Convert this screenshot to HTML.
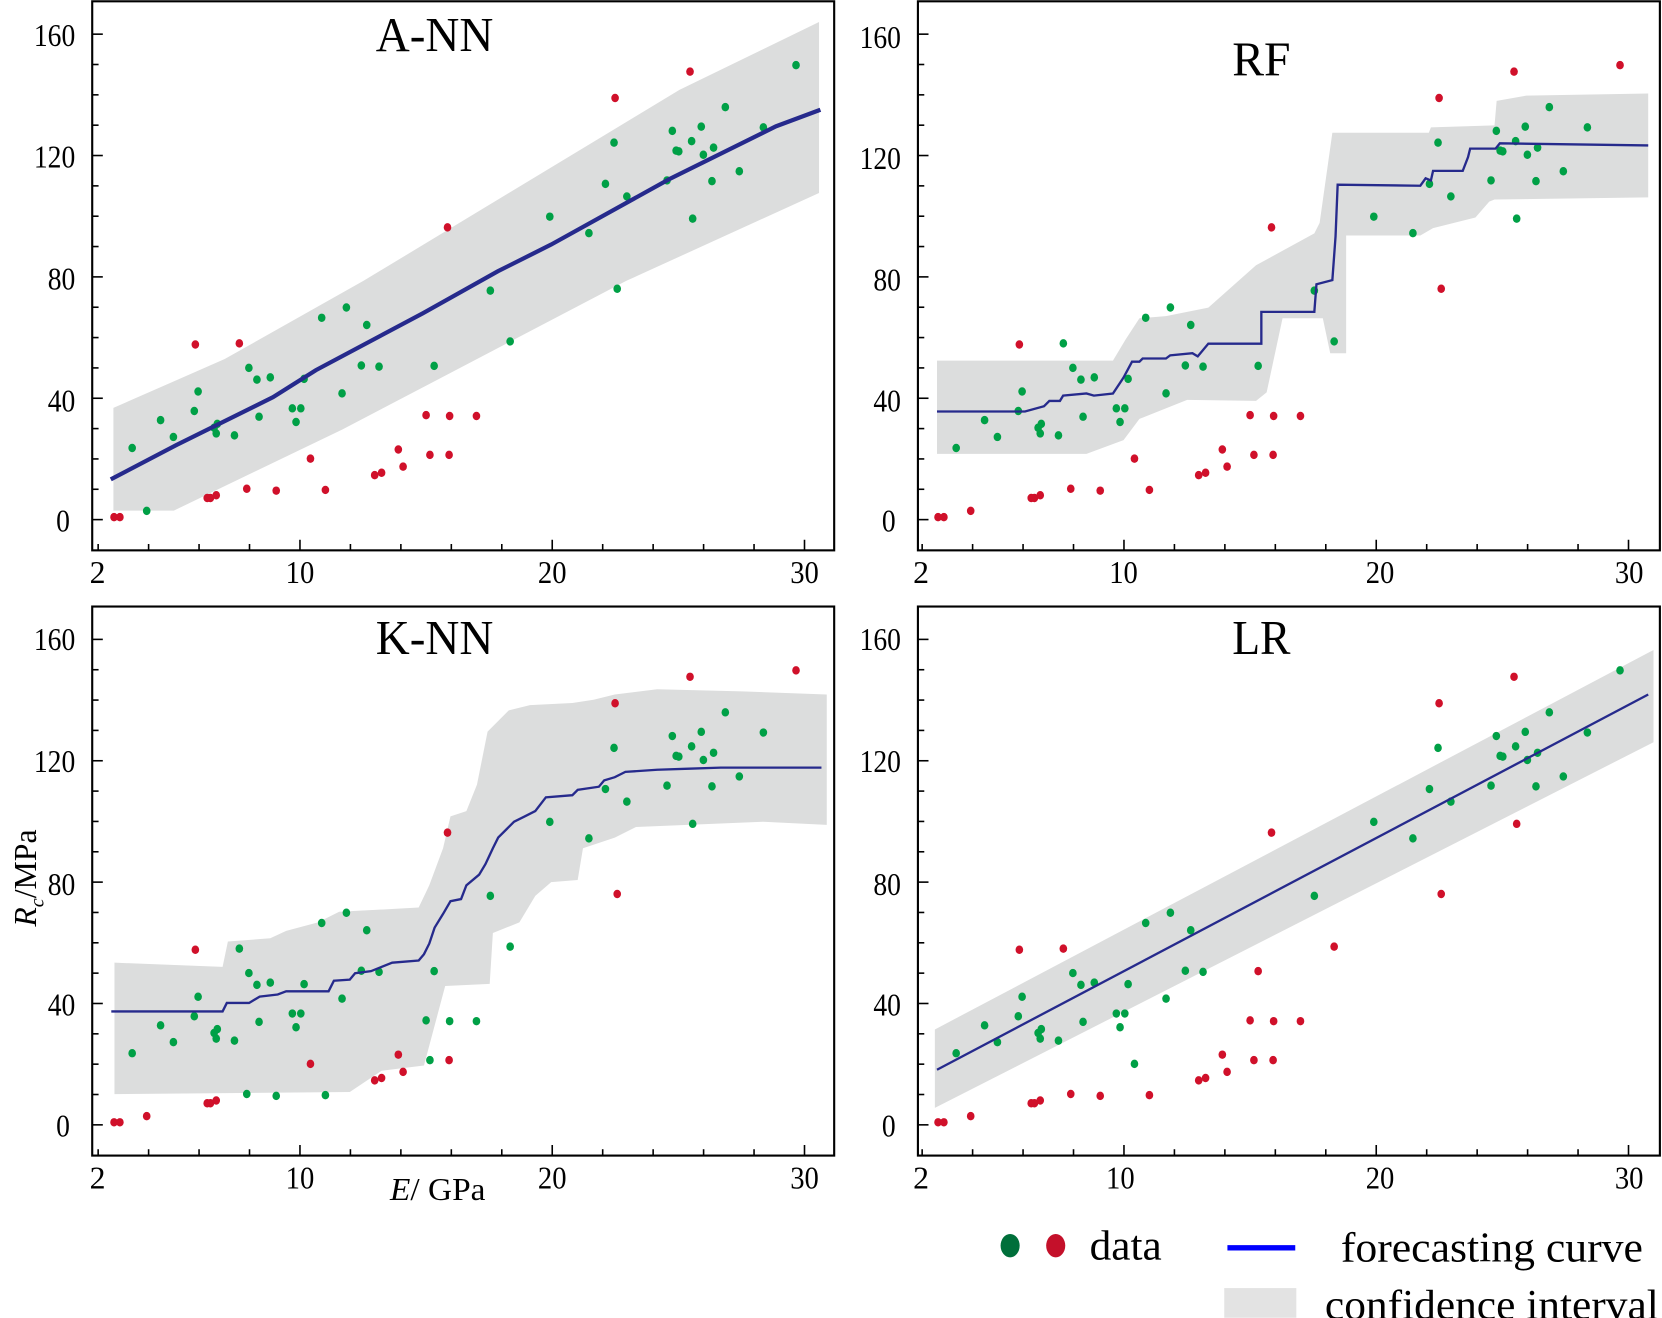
<!DOCTYPE html>
<html><head><meta charset="utf-8"><style>
html,body{margin:0;padding:0;background:#fff;width:1662px;height:1318px;overflow:hidden}
svg{display:block}
text{font-family:"Liberation Serif",serif;fill:#000}
</style></head><body>
<svg id="s" width="1662" height="1318" viewBox="0 0 1568 1243" xmlns="http://www.w3.org/2000/svg">
<polygon fill="#dcdddd" points="107,384.6 212,338.5 343,264.7 641,84.6 772.7,20.5 772.7,181.8 591,264.7 323,405 164,481.5 107,481.5"/>
<polygon fill="#dcdddd" points="884,340 1050,340 1062,320 1075,300 1100,298 1140,290 1185,250 1240,220 1245,210 1257,125 1348,125 1350,120 1410,118 1412,95 1440,90 1555,88 1555,186 1410,188 1405,190 1392,205 1352,215 1340,222 1270,222 1270,333 1255,333 1248,300 1210,300 1195,370 1185,378 1120,377 1075,395 1060,415 1025,428 884,428"/>
<polygon fill="#dcdddd" points="108,908 210,912 215,888 255,885 270,878 300,870 320,860 395,856 405,835 418,800 425,770 440,765 450,740 460,690 470,680 480,670 500,665 540,663 560,660 580,655 620,650 700,652 780,655 780,778 720,775 600,780 580,790 550,800 545,830 520,832 505,845 490,870 465,880 462,928 420,930 400,1005 360,1010 330,1030 108,1032"/>
<polygon fill="#dcdddd" points="882,971 1560,613 1560,700 882,1045"/>
<g id="dots"></g>
<polyline fill="none" stroke="#262a8c" stroke-width="4" points="104.5,452 166.7,419.5 257.6,374.5 298,349 399,295.3 469.7,255.7 520,230.5 631,169 732,119 774,103.3"/>
<polyline fill="none" stroke="#262a8c" stroke-width="2.2" points="884,388 963,388 967,388 985,383 990,378 1000,378 1003,373 1025,371 1032,373 1050,371 1060,356 1068,341 1075,341 1078,338 1100,338 1104,335 1125,333 1130,336 1140,324 1190,324 1190,294 1240,294 1242,268 1257,264 1260,223 1262,174 1340,175 1345,168 1350,170 1352,161 1380,161 1385,148 1387,140 1411,140 1415,135 1555,137"/>
<polyline fill="none" stroke="#262a8c" stroke-width="2.2" points="105,954 210,954 214,946 235,946 245,940 262,938 270,935 310,935 315,925 330,924 335,918 350,916 370,908 395,906 400,900 405,890 410,875 418,862 425,850 435,848 440,835 452,825 458,815 465,800 470,790 478,782 485,775 495,770 505,765 515,752 540,750 545,745 565,742 570,736 580,733 590,728 620,726 650,725 680,724 775,724"/>
<line x1="884" y1="1009" x2="1555" y2="655" stroke="#262a8c" stroke-width="2.2"/>
<g fill="none" stroke="#000" stroke-width="2">
<rect x="87" y="1" width="700" height="518"/>
<rect x="866" y="1" width="700" height="518"/>
<rect x="87" y="572" width="700" height="518"/>
<rect x="866" y="572" width="700" height="518"/>
</g>
<g id="ticks" stroke="#000" stroke-width="1.5"></g>
<g font-size="46" text-anchor="middle" lengthAdjust="spacingAndGlyphs">
<text x="410" y="48" textLength="111" lengthAdjust="spacingAndGlyphs">A-NN</text>
<text x="1190" y="71" textLength="55" lengthAdjust="spacingAndGlyphs">RF</text>
<text x="410" y="617" textLength="111" lengthAdjust="spacingAndGlyphs">K-NN</text>
<text x="1190" y="617" textLength="55" lengthAdjust="spacingAndGlyphs">LR</text>
</g>
<g font-size="30" text-anchor="end">
<text x="71" y="43" textLength="39" lengthAdjust="spacingAndGlyphs">160</text><text x="71" y="158" textLength="39" lengthAdjust="spacingAndGlyphs">120</text><text x="71" y="273" textLength="26" lengthAdjust="spacingAndGlyphs">80</text><text x="71" y="388" textLength="26" lengthAdjust="spacingAndGlyphs">40</text><text x="66" y="501" textLength="13" lengthAdjust="spacingAndGlyphs">0</text>
<text x="850" y="45" textLength="39" lengthAdjust="spacingAndGlyphs">160</text><text x="850" y="159" textLength="39" lengthAdjust="spacingAndGlyphs">120</text><text x="850" y="274" textLength="26" lengthAdjust="spacingAndGlyphs">80</text><text x="850" y="388" textLength="26" lengthAdjust="spacingAndGlyphs">40</text><text x="845" y="501" textLength="13" lengthAdjust="spacingAndGlyphs">0</text>
<text x="71" y="613" textLength="39" lengthAdjust="spacingAndGlyphs">160</text><text x="71" y="728" textLength="39" lengthAdjust="spacingAndGlyphs">120</text><text x="71" y="844" textLength="26" lengthAdjust="spacingAndGlyphs">80</text><text x="71" y="958" textLength="26" lengthAdjust="spacingAndGlyphs">40</text><text x="66" y="1072" textLength="13" lengthAdjust="spacingAndGlyphs">0</text>
<text x="850" y="613" textLength="39" lengthAdjust="spacingAndGlyphs">160</text><text x="850" y="728" textLength="39" lengthAdjust="spacingAndGlyphs">120</text><text x="850" y="844" textLength="26" lengthAdjust="spacingAndGlyphs">80</text><text x="850" y="958" textLength="26" lengthAdjust="spacingAndGlyphs">40</text><text x="845" y="1072" textLength="13" lengthAdjust="spacingAndGlyphs">0</text>
</g>
<g font-size="30" text-anchor="middle">
<text x="92" y="550">2</text><text x="283" y="550" textLength="27" lengthAdjust="spacingAndGlyphs">10</text><text x="521" y="550" textLength="27" lengthAdjust="spacingAndGlyphs">20</text><text x="759" y="550" textLength="27" lengthAdjust="spacingAndGlyphs">30</text>
<text x="869" y="550">2</text><text x="1060" y="550" textLength="27" lengthAdjust="spacingAndGlyphs">10</text><text x="1302" y="550" textLength="27" lengthAdjust="spacingAndGlyphs">20</text><text x="1537" y="550" textLength="27" lengthAdjust="spacingAndGlyphs">30</text>
<text x="92" y="1121">2</text><text x="283" y="1121" textLength="27" lengthAdjust="spacingAndGlyphs">10</text><text x="521" y="1121" textLength="27" lengthAdjust="spacingAndGlyphs">20</text><text x="759" y="1121" textLength="27" lengthAdjust="spacingAndGlyphs">30</text>
<text x="869" y="1121">2</text><text x="1057" y="1121" textLength="27" lengthAdjust="spacingAndGlyphs">10</text><text x="1302" y="1121" textLength="27" lengthAdjust="spacingAndGlyphs">20</text><text x="1537" y="1121" textLength="27" lengthAdjust="spacingAndGlyphs">30</text>
</g>
<text x="368" y="1132" font-size="30" textLength="90" lengthAdjust="spacingAndGlyphs"><tspan font-style="italic">E</tspan>/ GPa</text>
<text transform="translate(34,874) rotate(-90)" font-size="30"><tspan font-style="italic">R</tspan><tspan font-style="italic" font-size="19" dy="7">c</tspan><tspan dy="-7">/MPa</tspan></text>
<ellipse cx="953" cy="1175" rx="9" ry="11" fill="#006f3a"/>
<ellipse cx="996" cy="1175" rx="9" ry="11" fill="#c4102a"/>
<text x="1028" y="1188" font-size="40" textLength="68" lengthAdjust="spacingAndGlyphs">data</text>
<line x1="1158" y1="1177" x2="1222" y2="1177" stroke="#0000ff" stroke-width="5"/>
<text x="1265" y="1190" font-size="40" textLength="285" lengthAdjust="spacingAndGlyphs">forecasting curve</text>
<rect x="1155" y="1215" width="68" height="28" fill="#e3e3e3"/>
<text x="1250" y="1244" font-size="40" textLength="315" lengthAdjust="spacingAndGlyphs">confidence interval</text>
</svg>
<script>
var P=[
[124.7,422.4,"gggg"],[138.4,481.8,"grrr"],[151.5,396.1,"gggg"],[163.6,412,"gggg"],[183.3,387.5,"gggg"],[186.9,369.1,"gggg"],[202,403.3,"gggg"],[205,399.7,"gggg"],[204,408.7,"gggg"],[221.2,410.5,"gggg"],[234.8,346.8,"gggg"],[242.4,357.9,"gggg"],[244.4,392.9,"gggg"],[255,355.8,"gggg"],[275.8,385,"gggg"],[283.8,385,"gggg"],[279.3,397.9,"gggg"],[286.9,357.2,"gggg"],[303.5,299.6,"gggg"],[322.7,370.9,"gggg"],[326.8,289.9,"gggg"],[340.9,344.6,"gggg"],[346,306.4,"gggg"],[357.6,345.7,"gggg"],[409.6,345,"gggr"],[462.6,274,"gggg"],[481.3,321.9,"gggr"],[518.7,204.2,"gggg"],[555.6,219.7,"gggg"],[571.2,173.2,"gggg"],[579.3,134.3,"gggg"],[582.3,272.2,"grrr"],[591.4,185.1,"gggg"],[629.3,170,"gggg"],[634.3,123.2,"gggg"],[637.9,141.9,"gggg"],[640.4,142.6,"gggg"],[652.5,132.9,"gggg"],[653.5,206,"gggr"],[661.6,119.2,"gggg"],[663.6,145.8,"gggg"],[671.7,170.7,"gggg"],[673.2,139,"gggg"],[684.3,100.8,"gggg"],[697.5,161.3,"gggg"],[720.2,119.9,"gggg"],[751,61.2,"grrg"],
[107.6,487.6,"rrrr"],[113.1,487.6,"rrrr"],[184.3,324.8,"rrrr"],[225.8,323.7,"rggr"],[195.5,469.6,"rrrr"],[198.5,469.6,"rrrr"],[204,467,"rrrr"],[232.8,460.9,"rrgr"],[260.6,462.7,"rrgr"],[292.9,432.5,"rrrg"],[307,462,"rrgr"],[353.5,448,"rrrr"],[360,445.8,"rrrr"],[375.8,423.8,"rrrr"],[380.3,440,"rrrr"],[402,391.4,"rrgr"],[405.6,428.9,"rrgr"],[422.2,214.3,"rrrr"],[424.2,392.2,"rrgr"],[423.7,428.9,"rrrr"],[449.5,392.2,"rrgr"],[580.3,92.2,"rrrr"],[651,67.3,"rrrr"]];
var off=[[0,0],[777.4,0],[0,571],[777.4,571]],h="";
P.forEach(function(p){for(var k=0;k<4;k++){var c=p[2][k]=="g"?"#00a046":"#d0102a";h+='<ellipse cx="'+(p[0]+off[k][0])+'" cy="'+(p[1]+off[k][1])+'" rx="3.6" ry="4" fill="'+c+'"/>';}});
document.getElementById("dots").innerHTML=h;
var t="";
[[87,92.6,490],[866,870,490],[87,92.6,1061],[866,870,1061]].forEach(function(a,i){
var bot=i<2?519:1090;
for(var v=0;v<=160;v+=10){var y=a[2]-v*2.8625;var L=v%40==0?10:6;t+='<line x1="'+a[0]+'" y1="'+y+'" x2="'+(a[0]+L)+'" y2="'+y+'"/>';}
for(var x=2;x<=30;x+=2){var X=a[1]+(x-2)*23.8;var L=x%10==0?10:6;t+='<line x1="'+X+'" y1="'+bot+'" x2="'+X+'" y2="'+(bot-L)+'"/>';}
});
document.getElementById("ticks").innerHTML=t;
</script>
</body></html>
